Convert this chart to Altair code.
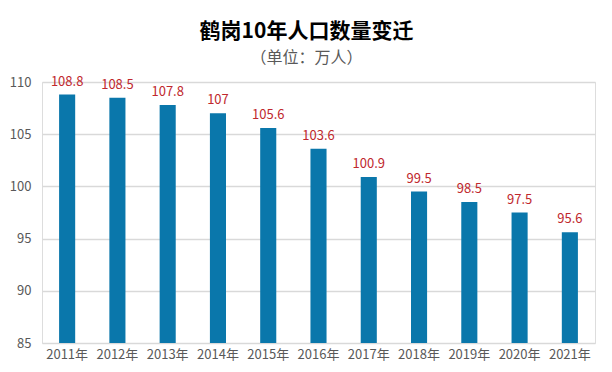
import altair as alt
import pandas as pd

years = ["2011年", "2012年", "2013年", "2014年", "2015年", "2016年",
         "2017年", "2018年", "2019年", "2020年", "2021年"]
population = [108.8, 108.5, 107.8, 107, 105.6, 103.6, 100.9, 99.5, 98.5, 97.5, 95.6]
labels = ["108.8", "108.5", "107.8", "107", "105.6", "103.6", "100.9", "99.5", "98.5", "97.5", "95.6"]

df = pd.DataFrame({"year": years, "pop": population, "label": labels})

FONT = "Noto Sans CJK SC"

x = alt.X("year:N", sort=years, title=None,
          scale=alt.Scale(paddingInner=0.68, paddingOuter=0.34),
          axis=alt.Axis(labelAngle=0, domain=False, ticks=False, labelPadding=5,
                        labelFontSize=13, labelColor="#595959", labelFont=FONT))
y = alt.Y("pop:Q", title=None,
          scale=alt.Scale(domain=[85, 110], nice=False, zero=False, clamp=True),
          axis=alt.Axis(values=[85, 90, 95, 100, 105, 110], domain=False, ticks=False,
                        labelPadding=11, labelFontSize=13, labelColor="#595959",
                        labelFont=FONT, gridColor="#d9d9d9", gridWidth=1.5))

bars = alt.Chart(df).mark_bar(color="#0a77ab").encode(x=x, y=y, y2=alt.datum(85))
text = alt.Chart(df).mark_text(dy=-13, fontSize=13, color="#c0282d", font=FONT).encode(
    x=alt.X("year:N", sort=years), y="pop:Q", text="label:N")

chart = alt.layer(bars, text).properties(
    width=553, height=261,
    title=alt.TitleParams(
        text="鹤岗10年人口数量变迁",
        subtitle="（单位：万人）",
        font=FONT, fontSize=21, fontWeight="bold", color="#000000",
        subtitleFont=FONT, subtitleFontSize=16, subtitleColor="#595959",
        subtitlePadding=8, anchor="middle", dx=-12, offset=10),
    autosize=alt.AutoSizeParams(type="none"),
    padding={"left": 34, "top": 74, "right": 9, "bottom": 21},
).configure_view(stroke=None).configure(background="white")

chart.save("out.html", embed_options={"renderer": "svg", "actions": False})
